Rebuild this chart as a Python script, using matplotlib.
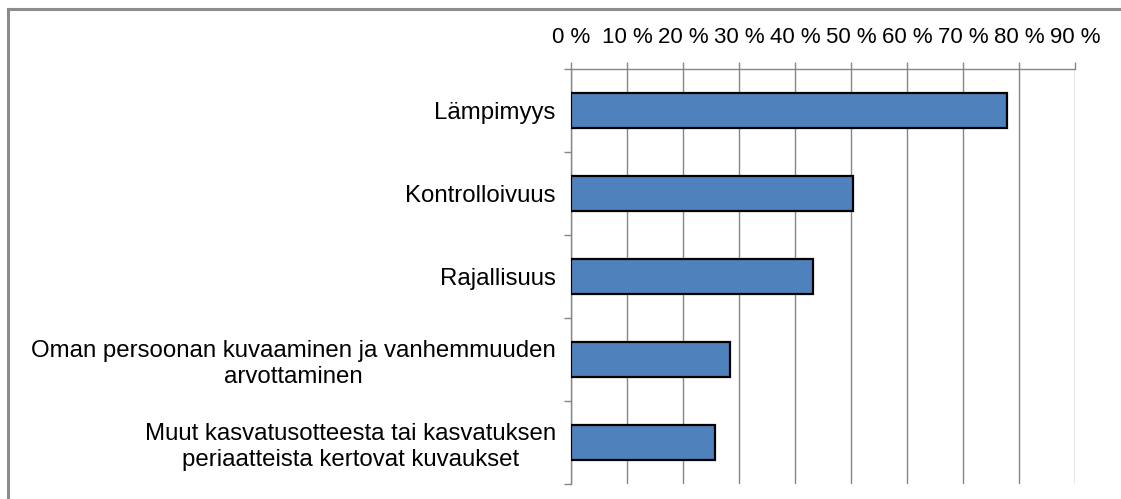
import matplotlib
matplotlib.use("Agg")
import matplotlib.pyplot as plt
import numpy as np
from matplotlib.lines import Line2D
from matplotlib.ticker import FuncFormatter

categories = [
    "Lämpimyys",
    "Kontrolloivuus",
    "Rajallisuus",
    "Oman persoonan kuvaaminen ja vanhemmuuden\narvottaminen",
    "Muut kasvatusotteesta tai kasvatuksen\nperiaatteista kertovat kuvaukset",
]
values = [77.8, 50.4, 43.3, 28.4, 25.7]
xticks = [0, 10, 20, 30, 40, 50, 60, 70, 80, 90]

plt.rcParams['font.family'] = ['Liberation Sans', 'DejaVu Sans']
plt.rcParams['font.size'] = 16

fig = plt.figure(figsize=(11.21, 4.99), dpi=100)
ax = fig.add_axes([571 / 1121, 1 - 484 / 499, (1075 - 571) / 1121, 415 / 499])

grey = '#868686'
pos = np.arange(len(categories))
ax.barh(pos, values, height=0.41, color='#4F81BD', edgecolor='black', linewidth=1.6, zorder=3)

ax.set_xlim(0, 90)
ax.set_ylim(len(categories) - 0.5, -0.5)
ax.set_xticks(xticks)
ax.xaxis.set_major_formatter(FuncFormatter(lambda v, p: "%d %%" % v))
ax.xaxis.tick_top()
ax.tick_params(axis='x', which='major', direction='out', length=5, width=1, color=grey, pad=10, labelsize=16)
ax.grid(axis='x', color=grey, linewidth=1, zorder=0)

ax.set_yticks(pos)
ax.set_yticklabels(categories)
for lab in ax.get_yticklabels():
    lab.set_multialignment('center')
    lab.set_linespacing(1.25)
ax.set_yticks(np.arange(len(categories) + 1) - 0.5, minor=True)
ax.tick_params(axis='y', which='major', length=0, pad=11, labelsize=17.3)
ax.tick_params(axis='y', which='minor', direction='out', length=5, width=1, color=grey)

for s in ['right', 'bottom']:
    ax.spines[s].set_visible(False)
for s in ['top', 'left']:
    ax.spines[s].set_color(grey)
    ax.spines[s].set_linewidth(1)

# chart border
fig.add_artist(Line2D([8 / 1121, 8 / 1121], [0, 1 - 9 / 499], color='#8c8c8c', linewidth=2.2, transform=fig.transFigure))
fig.add_artist(Line2D([8 / 1121, 1], [1 - 9 / 499, 1 - 9 / 499], color='#8c8c8c', linewidth=2.2, transform=fig.transFigure))

fig.savefig("out.png", dpi=100)
